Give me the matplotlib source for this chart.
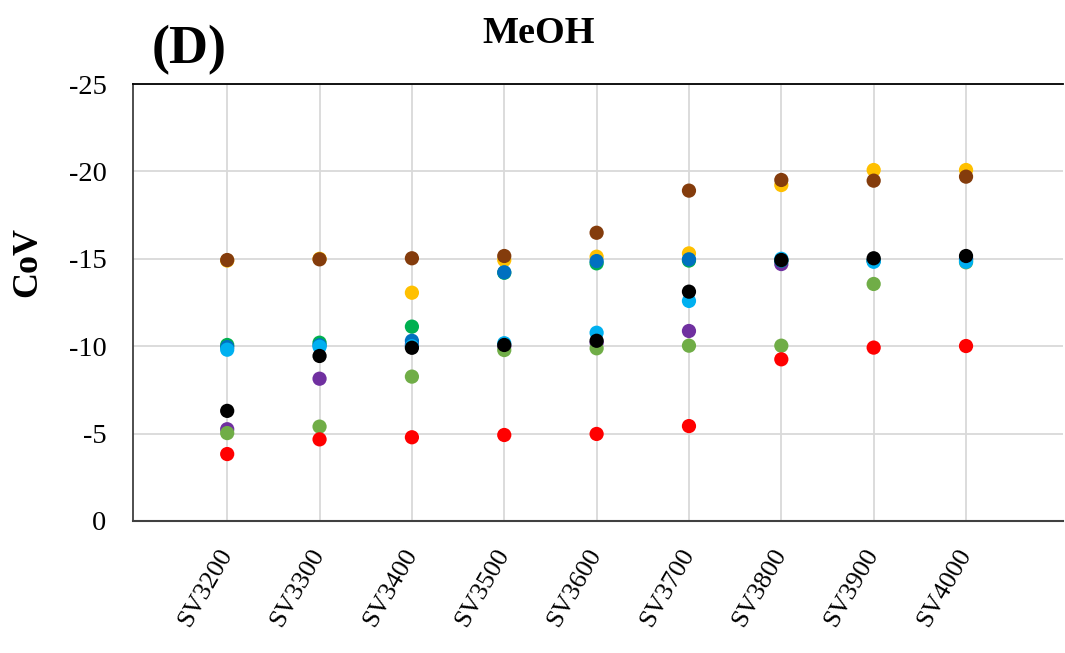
import matplotlib
matplotlib.use("Agg")
import matplotlib.pyplot as plt

# Space-velocity categories
categories = ["SV3200", "SV3300", "SV3400", "SV3500", "SV3600",
              "SV3700", "SV3800", "SV3900", "SV4000"]

# CoV values per series (negative scale)
s_purple = [-5.25, -8.14, -10.10, -10.00, -10.20, -10.87, -14.70, -14.90, -15.00]
s_lgreen = [-5.03, -5.40, -8.26, -9.78, -9.88, -10.03, -10.03, -13.56, -14.80]
s_green = [-10.07, -10.20, -11.12, -14.20, -14.74, -14.90, -14.90, -14.90, -14.90]
s_yellow = [-14.90, -15.00, -13.06, -14.93, -15.12, -15.31, -19.22, -20.08, -20.08]
s_blue = [-9.95, -10.05, -10.31, -14.23, -14.87, -14.97, -14.90, -14.90, -15.00]
s_lblue = [-9.80, -9.97, -10.00, -10.17, -10.77, -12.59, -15.00, -14.83, -14.83]
s_red = [-3.83, -4.67, -4.79, -4.92, -4.98, -5.43, -9.25, -9.92, -10.01]
s_brown = [-14.93, -14.97, -15.03, -15.16, -16.49, -18.90, -19.51, -19.47, -19.70]
s_black = [-6.30, -9.44, -9.91, -10.07, -10.31, -13.12, -14.93, -15.03, -15.16]

series = [
    (s_purple, "#7030A0"),
    (s_lgreen, "#70AD47"),
    (s_green, "#00B050"),
    (s_yellow, "#FFC000"),
    (s_blue, "#0070C0"),
    (s_lblue, "#00B0F0"),
    (s_red, "#FF0000"),
    (s_brown, "#843C0C"),
    (s_black, "#000000"),
]

plt.rcParams["font.family"] = ["Liberation Serif", "DejaVu Serif"]

fig = plt.figure(figsize=(10.65, 6.53), dpi=100)
ax = fig.add_axes([133 / 1065, 1 - 521 / 653, (1063 - 133) / 1065, (521 - 84) / 653])

x = list(range(len(categories)))
for vals, col in series:
    ax.scatter(x, vals, s=105, color=col, edgecolors="none", zorder=3)

ax.set_ylim(0, -25)
ax.set_yticks([0, -5, -10, -15, -20, -25])
ax.set_yticklabels(["0", "-5", "-10", "-15", "-20", "-25"])
ax.set_xlim(-1.02, 9.05)
ax.set_xticks(x)
ax.set_xticklabels(categories, rotation=60, ha="right", va="center",
                   rotation_mode="anchor")

ax.grid(True, color="#D9D9D9", linewidth=1.3, zorder=0)
ax.set_axisbelow(True)
ax.tick_params(axis="y", length=0, pad=19, labelsize=20.5)
ax.tick_params(axis="x", length=0, pad=21, labelsize=19)

ax.spines["right"].set_visible(False)
ax.spines["top"].set_color("#000000")
ax.spines["top"].set_linewidth(1.3)
ax.spines["left"].set_color("#404040")
ax.spines["left"].set_linewidth(1.3)
ax.spines["bottom"].set_color("#404040")
ax.spines["bottom"].set_linewidth(1.5)

fig.text(28 / 1065, 1 - 262 / 653, "CoV", rotation=90, fontsize=26,
         fontweight="bold", ha="center", va="center")
fig.text(539 / 1065, 1 - 43 / 653, "MeOH", fontsize=27.5, fontweight="bold",
         ha="center", va="baseline")
fig.text(189 / 1065, 1 - 63 / 653, "(D)", fontsize=39, fontweight="bold",
         ha="center", va="baseline")

fig.savefig("out.png", dpi=100, facecolor="white")
